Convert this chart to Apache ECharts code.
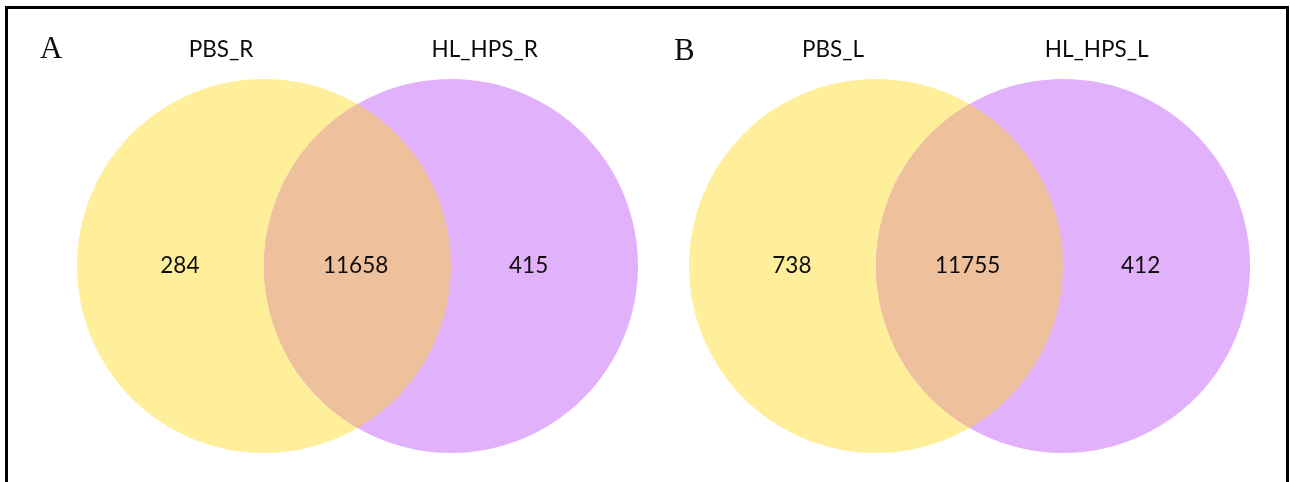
<!DOCTYPE html>
<html>
<head>
<meta charset="utf-8">
<script src="https://cdn.jsdelivr.net/npm/echarts@6/dist/echarts.min.js"></script>
<style>
  html, body { margin: 0; padding: 0; background: #fff; }
  #venn { width: 1290px; height: 482px; }
</style>
</head>
<body>
<div id="venn"></div>
<script>
// panel letters and set names
const panelLabels = ['A', 'B'];
const setNamesA = ['PBS_R', 'HL_HPS_R'];
const setNamesB = ['PBS_L', 'HL_HPS_L'];
// counts: only left set, shared, only right set
const countsA = [284, 11658, 415];
const countsB = [738, 11755, 412];

// venn geometry in axis units (radius = 1, centres 1 apart)
const centres = [0, 1];
const regionX = [-0.45, 0.49, 1.415];
const nameX = [-0.23, 1.18];
const nameY = 1.155;

const fills = ['#FFEE9A', '#E2B1FC'];
const overlapFill = '#EFC09C';
const textFont = 'Lato, "Open Sans", sans-serif';

const chart = echarts.init(document.getElementById('venn'), null, { renderer: 'canvas' });

function circleItem(params, api) {
  const c = api.coord([api.value(0), api.value(1)]);
  const r = api.size([1, 1])[0];
  return {
    type: 'circle',
    shape: { cx: c[0], cy: c[1], r: r },
    style: { fill: fills[params.dataIndex] }
  };
}

function lensItem(params, api) {
  const a = api.coord([api.value(0), 0]);
  const b = api.coord([api.value(1), 0]);
  const r = api.size([1, 1])[0];
  const mx = (a[0] + b[0]) / 2;
  const d = (b[0] - a[0]) / 2;
  const h = Math.sqrt(r * r - d * d);
  const top = a[1] - h, bottom = a[1] + h;
  const path = 'M' + mx + ',' + top +
    'A' + r + ',' + r + ',0,0,1,' + mx + ',' + bottom +
    'A' + r + ',' + r + ',0,0,1,' + mx + ',' + top + 'Z';
  return {
    type: 'path',
    shape: { pathData: path },
    style: { fill: overlapFill }
  };
}

function textItem(params, api) {
  const p = api.coord([api.value(0), api.value(1)]);
  return {
    type: 'text',
    x: p[0],
    y: p[1],
    style: {
      text: String(api.value(2)),
      fill: '#0d0d0d',
      font: '22.5px ' + textFont,
      align: 'center',
      verticalAlign: 'middle'
    }
  };
}

function panelSeries(gridIndex, names, counts) {
  const axis = { xAxisIndex: gridIndex, yAxisIndex: gridIndex };
  return [
    Object.assign({
      type: 'custom',
      renderItem: circleItem,
      data: centres.map(x => [x, 0]),
      silent: true
    }, axis),
    Object.assign({
      type: 'custom',
      renderItem: lensItem,
      data: [[centres[0], centres[1]]],
      silent: true
    }, axis),
    Object.assign({
      type: 'custom',
      renderItem: textItem,
      data: counts.map((v, i) => [regionX[i], 0, v]),
      dimensions: ['x', 'y', { name: 'label', type: 'ordinal' }],
      silent: true,
      z: 5
    }, axis),
    Object.assign({
      type: 'custom',
      renderItem: textItem,
      data: names.map((n, i) => [nameX[i], nameY, n]),
      dimensions: ['x', 'y', { name: 'label', type: 'ordinal' }],
      silent: true,
      z: 5
    }, axis)
  ];
}

const hiddenX = { type: 'value', min: -1, max: 2, show: false };
const hiddenY = { type: 'value', min: -1, max: 1, show: false };

const letterStyle = {
  fontFamily: '"Liberation Serif", "DejaVu Serif", serif',
  fontSize: 31, fontWeight: 'normal', color: '#0d0d0d'
};

const option = {
  animation: false,
  backgroundColor: '#fff',
  title: [
    { text: panelLabels[0], left: 35, top: 29, textStyle: letterStyle },
    { text: panelLabels[1], left: 669, top: 31, textStyle: letterStyle }
  ],
  grid: [
    { left: 77, top: 79, width: 561, height: 374 },
    { left: 689, top: 79, width: 561, height: 374 }
  ],
  xAxis: [Object.assign({ gridIndex: 0 }, hiddenX), Object.assign({ gridIndex: 1 }, hiddenX)],
  yAxis: [Object.assign({ gridIndex: 0 }, hiddenY), Object.assign({ gridIndex: 1 }, hiddenY)],
  graphic: [{
    type: 'rect',
    shape: { x: 6.5, y: 7.5, width: 1281, height: 600 },
    style: { fill: 'none', stroke: '#000', lineWidth: 3 },
    silent: true
  }],
  series: panelSeries(0, setNamesA, countsA).concat(panelSeries(1, setNamesB, countsB))
};

chart.setOption(option);
</script>
</body>
</html>
